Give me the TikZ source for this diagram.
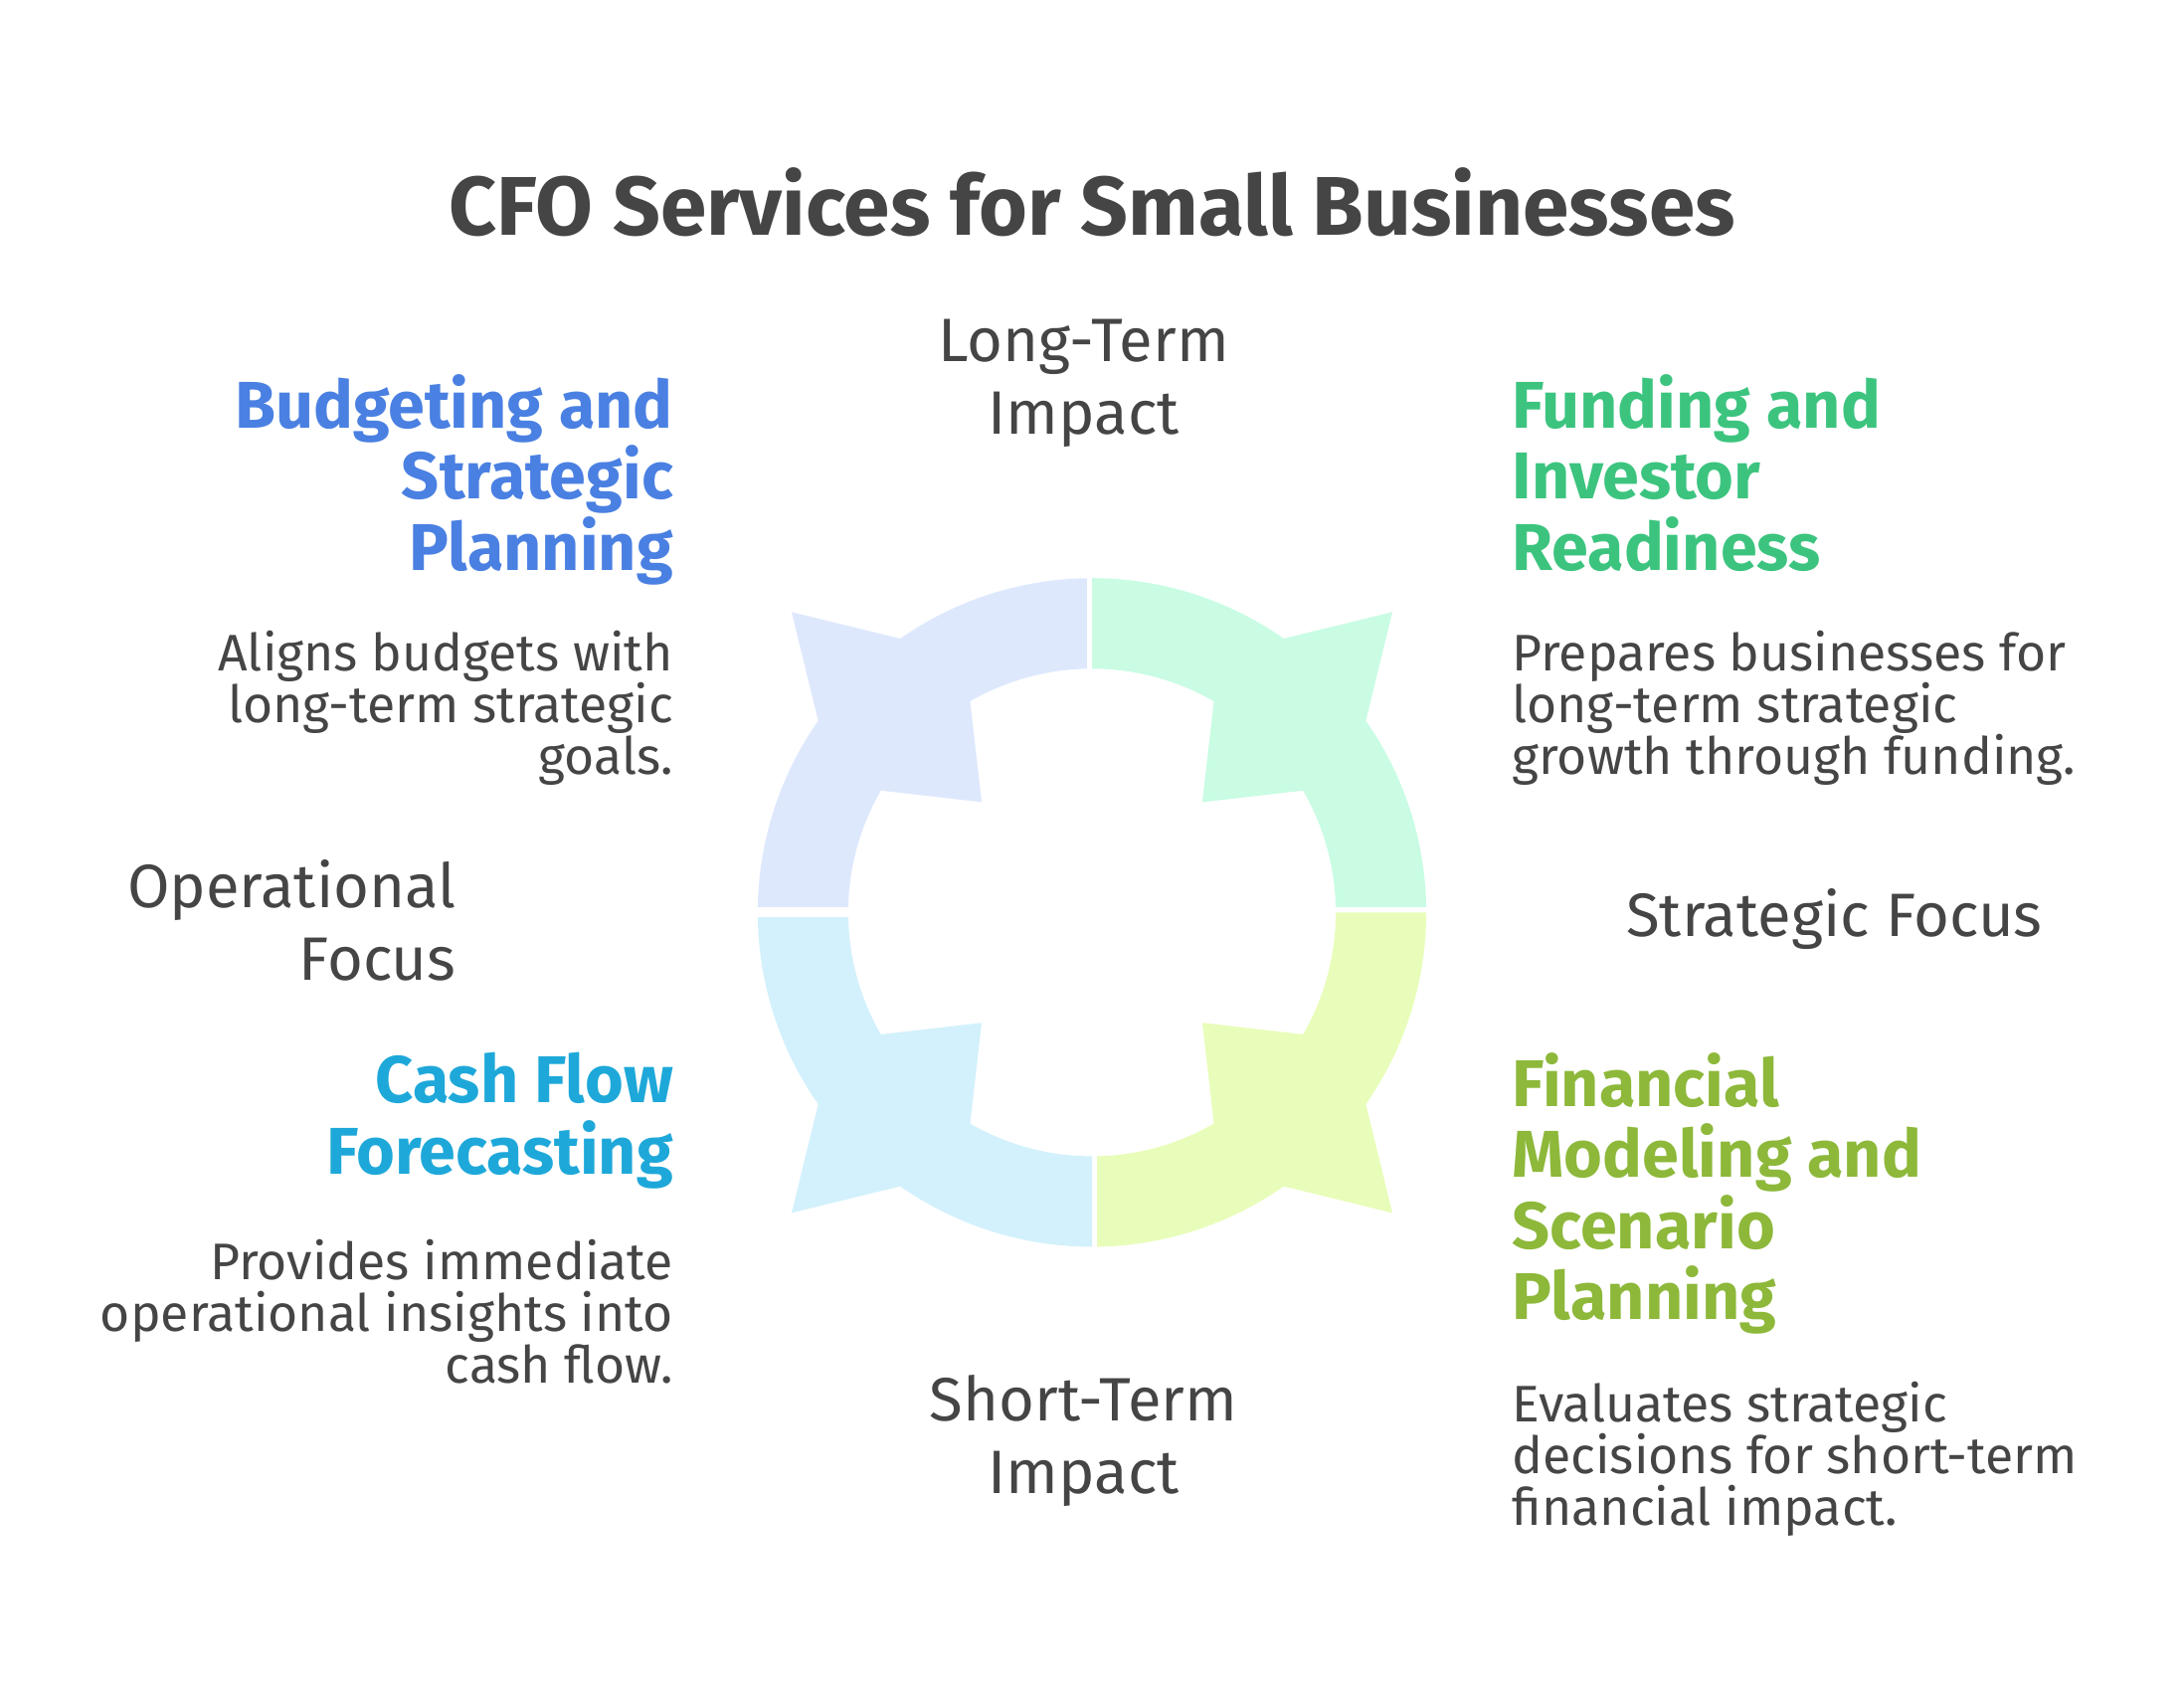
\documentclass[tikz,border=0pt]{standalone}
\usepackage{fontspec}
\setmainfont{Fira Sans}
\usetikzlibrary{positioning}
\definecolor{inkcolor}{HTML}{454545}
\definecolor{planblue}{HTML}{4A80E2}
\definecolor{fundgreen}{HTML}{3CC47F}
\definecolor{modellime}{HTML}{8DB83A}
\definecolor{cashcyan}{HTML}{1EA8D9}
\definecolor{planfill}{HTML}{DEE8FD}
\definecolor{fundfill}{HTML}{C9FCE3}
\definecolor{modelfill}{HTML}{E8FDBA}
\definecolor{cashfill}{HTML}{D3F1FC}
\begin{document}
\begin{tikzpicture}[x=0.01cm, y=-0.01cm]
    % Define styles
    \tikzset{
      heading/.style={font=\fontsize{13.5}{14.5}\selectfont\bfseries, inner sep=0pt},
      body/.style={font=\fontsize{10.5}{10.6}\selectfont, text=inkcolor, inner sep=0pt},
      axislabel/.style={font=\fontsize{12.5}{14.8}\selectfont, text=inkcolor, inner sep=0pt, align=center},
      quarter/.style={draw=white, line width=2pt}
    }
    \useasboundingbox (0,0) rectangle (1568,1209);

    % Ring quarters
    \foreach \rot/\col in {0/planfill, -90/fundfill, -180/modelfill, -270/cashfill}{
      \begin{scope}[shift={(784,655)}, rotate=\rot, y=0.01cm]
        \fill[\col] (90:240) arc (90:125:240) -- (135:305) -- (145:240) arc (145:180:240)
          -- (180:175) arc (180:150:175) -- (135:112) -- (120:175) arc (120:90:175) -- cycle;
        \draw[quarter] (90:170) -- (90:245);
      \end{scope}
    }

    % Title
    \node[font=\fontsize{17}{20}\selectfont\bfseries, text=inkcolor] (title) at (784,145) {CFO Services for Small Businesses};

    % Axis labels
    \node[axislabel] (longterm) at (778,275) {Long-Term\\Impact};
    \node[axislabel] (shortterm) at (778,1034) {Short-Term\\Impact};
    \node[axislabel, anchor=east, align=right] (operational) at (328,661) {Operational\\Focus};
    \node[axislabel] (strategic) at (1317,660) {Strategic Focus};

    % Services
    \node[heading, text=planblue, anchor=north east, align=right] (planning) at (484,268) {Budgeting and\\Strategic\\Planning};
    \node[body, anchor=north east, align=right] (planningtxt) at (484,452) {Aligns budgets with\\long-term strategic\\goals.};
    \node[heading, text=fundgreen, anchor=north west, align=left] (funding) at (1085,268) {Funding and\\Investor\\Readiness};
    \node[body, anchor=north west, align=left] (fundingtxt) at (1085,452) {Prepares businesses for\\long-term strategic\\growth through funding.};
    \node[heading, text=cashcyan, anchor=north east, align=right] (cash) at (484,755) {Cash Flow\\Forecasting};
    \node[body, anchor=north east, align=right] (cashtxt) at (484,889) {Provides immediate\\operational insights into\\cash flow.};
    \node[heading, text=modellime, anchor=north west, align=left] (model) at (1085,755) {Financial\\Modeling and\\Scenario\\Planning};
    \node[body, anchor=north west, align=left] (modeltxt) at (1085,991) {Evaluates strategic\\decisions for short-term\\financial impact.};
\end{tikzpicture}
\end{document}
